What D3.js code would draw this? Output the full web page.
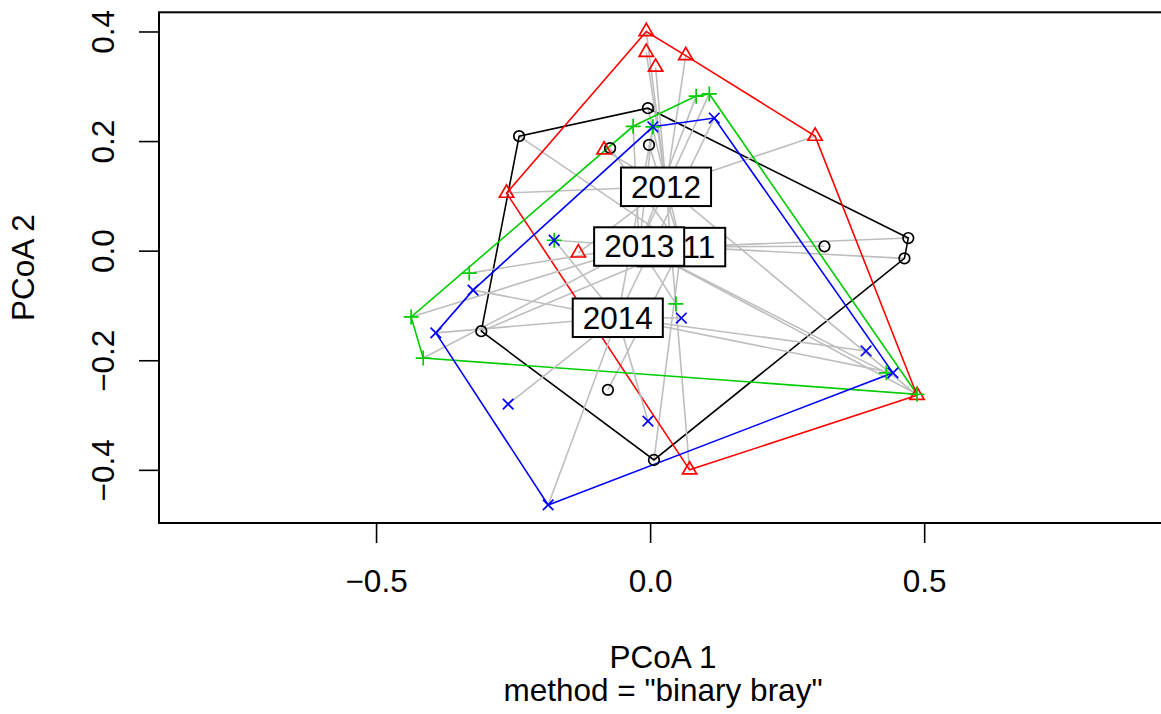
<!DOCTYPE html>
<html>
<head>
<meta charset="utf-8">
<script src="https://cdn.jsdelivr.net/npm/d3@7"></script>
<style>
  body { margin: 0; background: #fff; }
  text { font-family: "Liberation Sans", Arial, Helvetica, sans-serif; }
</style>
</head>
<body>
<div id="main"></div>
<script>
// groups, colours and symbols
const groups = ['2011', '2012', '2013', '2014'];
const colors = ['#000000', '#FF0000', '#00CD00', '#0000FF'];
const shapes = ['circle', 'triangle', 'plus', 'cross'];

// PCoA scores, [PCoA 1, PCoA 2]
const sites2011 = [[-0.239, 0.209], [-0.004, 0.260], [-0.002, 0.193], [-0.073, 0.187], [0.318, 0.008],
  [0.471, 0.023], [0.464, -0.014], [-0.308, -0.147], [-0.077, -0.254], [0.007, -0.382]];
const sites2012 = [[-0.007, 0.400], [-0.007, 0.362], [0.010, 0.335], [0.065, 0.356], [0.301, 0.209],
  [0.487, -0.264], [0.072, -0.400], [-0.131, -0.004], [-0.084, 0.184], [-0.262, 0.105]];
const sites2013 = [[0.084, 0.282], [0.108, 0.286], [-0.031, 0.227], [0.005, 0.226], [-0.175, 0.019],
  [-0.330, -0.041], [-0.436, -0.121], [-0.414, -0.196], [0.047, -0.097], [0.431, -0.223], [0.487, -0.262]];
const sites2014 = [[0.117, 0.242], [0.005, 0.226], [-0.175, 0.019], [-0.323, -0.072], [-0.391, -0.150],
  [-0.259, -0.280], [-0.186, -0.464], [-0.004, -0.311], [0.057, -0.123], [0.394, -0.183], [0.443, -0.223]];
const sites = [sites2011, sites2012, sites2013, sites2014];

// group centroids
const centroids = [[0.057, 0.007], [0.029, 0.117], [-0.020, 0.008], [-0.059, -0.122]];

// axis ticks
const xTicks = [-0.5, 0.0, 0.5];
const yTicks = [-0.4, -0.2, 0.0, 0.2, 0.4];

// SVG
const w = 1161;
const h = 714;
const boxL = 159, boxR = 1167, boxT = 12.3, boxB = 523;

const svg = d3.select('#main')
  .append('svg')
  .attr('width', w)
  .attr('height', h)

const x = d3.scaleLinear().domain([-0.896, 0.943]).range([boxL, boxR]);
const y = d3.scaleLinear().domain([-0.497, 0.435]).range([boxB, boxT]);

const fmt = (d) => d3.format('.1f')(d).replace('-', '\u2212');
const fontSize = '31.5px';

// axes
const xAxis = svg.append('g')
  .attr('transform', `translate(0, ${boxB})`)
  .call(d3.axisBottom(x).tickValues(xTicks).tickSize(20).tickSizeOuter(0).tickFormat(fmt))
xAxis.select('.domain').remove()
xAxis.selectAll('line').attr('stroke', '#000').attr('stroke-width', 1.6)
xAxis.selectAll('text')
  .attr('y', 69).attr('dy', 0)
  .style('font-size', fontSize)

const yAxis = svg.append('g')
  .attr('transform', `translate(${boxL}, 0)`)
  .call(d3.axisLeft(y).tickValues(yTicks).tickSize(20).tickSizeOuter(0).tickFormat(fmt))
yAxis.select('.domain').remove()
yAxis.selectAll('line').attr('stroke', '#000').attr('stroke-width', 1.6)
yAxis.selectAll('text')
  .attr('x', 0).attr('dy', 0)
  .attr('text-anchor', 'middle')
  .attr('transform', 'translate(-45, 0) rotate(-90)')
  .style('font-size', fontSize)
yAxis.attr('font-family', null)
xAxis.attr('font-family', null)

// plot box
svg.append('rect')
  .attr('x', boxL).attr('y', boxT)
  .attr('width', boxR - boxL).attr('height', boxB - boxT)
  .attr('fill', 'none').attr('stroke', '#000').attr('stroke-width', 2)

// axis titles
svg.append('text')
  .attr('x', (boxL + boxR) / 2).attr('y', 668)
  .attr('text-anchor', 'middle')
  .style('font-size', fontSize)
  .text('PCoA 1')
svg.append('text')
  .attr('x', (boxL + boxR) / 2).attr('y', 701)
  .attr('text-anchor', 'middle')
  .style('font-size', fontSize)
  .text('method = "binary bray"')
svg.append('text')
  .attr('transform', `translate(33.5, ${(boxT + boxB) / 2}) rotate(-90)`)
  .attr('text-anchor', 'middle')
  .style('font-size', fontSize)
  .text('PCoA 2')

const plot = svg.append('g')

// segments to centroid, then hull, per group
groups.forEach((g, i) => {
  const c = centroids[i];
  plot.append('g').selectAll('line')
    .data(sites[i])
    .enter()
    .append('line')
    .attr('x1', (d) => x(d[0])).attr('y1', (d) => y(d[1]))
    .attr('x2', x(c[0])).attr('y2', y(c[1]))
    .attr('stroke', '#BEBEBE')
    .attr('stroke-width', 1.6)

  const hull = d3.polygonHull(sites[i].map((d) => [x(d[0]), y(d[1])]));
  plot.append('path')
    .attr('d', 'M' + hull.join('L') + 'Z')
    .attr('fill', 'none')
    .attr('stroke', colors[i])
    .attr('stroke-width', 1.6)
})

// points
const R = 5.3;
const symbolPath = (type) => {
  if (type == 'circle') {
    return `M${R},0A${R},${R} 0 1,1 ${-R},0A${R},${R} 0 1,1 ${R},0Z`
  } else if (type == 'triangle') {
    const r = 1.5551 * R, xc = 1.3468 * R, yc = 0.7776 * R;
    return `M0,${-r}L${xc},${yc}L${-xc},${yc}Z`
  } else if (type == 'plus') {
    const a = Math.SQRT2 * R;
    return `M${-a},0L${a},0M0,${-a}L0,${a}`
  } else {
    return `M${-R},${-R}L${R},${R}M${-R},${R}L${R},${-R}`
  }
}

groups.forEach((g, i) => {
  plot.append('g').selectAll('path')
    .data(sites[i])
    .enter()
    .append('path')
    .attr('transform', (d) => `translate(${x(d[0])}, ${y(d[1])})`)
    .attr('d', symbolPath(shapes[i]))
    .attr('fill', 'none')
    .attr('stroke', colors[i])
    .attr('stroke-width', 1.7)
})

// centroid labels
groups.forEach((g, i) => {
  const c = centroids[i];
  const lab = plot.append('g')
    .attr('transform', `translate(${x(c[0])}, ${y(c[1])})`)
  const box = lab.append('rect')
  const t = lab.append('text')
    .attr('text-anchor', 'middle')
    .attr('y', 11.2)
    .style('font-size', fontSize)
    .text(g)
  const tw = t.node().getComputedTextLength();
  box.attr('x', -(tw + 20) / 2).attr('y', -19)
    .attr('width', tw + 20).attr('height', 38.5)
    .attr('fill', '#fff')
    .attr('stroke', '#000')
    .attr('stroke-width', 2)
})
</script>
</body>
</html>
